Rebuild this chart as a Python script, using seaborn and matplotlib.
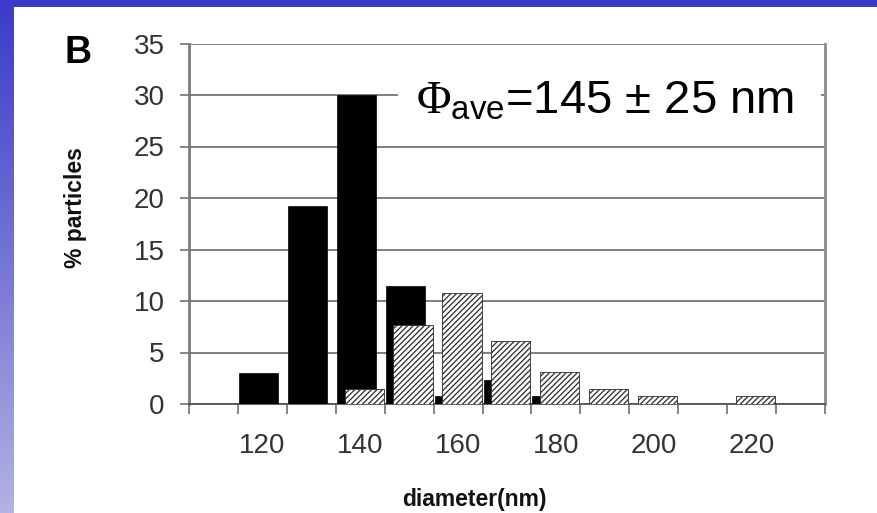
import numpy as np
import pandas as pd
import matplotlib
matplotlib.use("Agg")
import matplotlib.pyplot as plt
from matplotlib.patches import Rectangle
from matplotlib.ticker import FixedLocator, NullFormatter
import seaborn as sns

# Size-distribution histogram: percentage of particles per 10 nm diameter bin
diameters = [110, 120, 130, 140, 150, 160, 170, 180, 190, 200, 210, 220, 230]
pct_solid = [0, 3.0, 19.2, 30.0, 11.5, 0.8, 2.3, 0.8, 0, 0, 0, 0, 0]
pct_hatched = [0, 0, 0, 1.5, 7.7, 10.8, 6.1, 3.1, 1.5, 0.8, 0, 0.8, 0]
x_tick_labels = [120, 140, 160, 180, 200, 220]
y_ticks = [0, 5, 10, 15, 20, 25, 30, 35]
panel_letter = "B"
stat_text = r"$\Phi_{\mathsf{ave}}$=145 ± 25 nm"

sns.set_theme(style="white")
plt.rcParams["font.family"] = ["Liberation Sans", "DejaVu Sans"]
plt.rcParams["mathtext.fontset"] = "custom"
plt.rcParams["mathtext.rm"] = "Liberation Serif"
plt.rcParams["mathtext.sf"] = "Liberation Sans"
plt.rcParams["mathtext.it"] = "Liberation Serif:italic"
plt.rcParams["hatch.linewidth"] = 0.9

W, H = 878, 513
fig = plt.figure(figsize=(W / 100, H / 100), dpi=100)
fig.patch.set_facecolor("white")

# slide background: blue gradient frame at left and top
bg = fig.add_axes([0, 0, 1, 1], zorder=-10)
grad = np.linspace(0, 1, 256)[:, None]
cmap = matplotlib.colors.LinearSegmentedColormap.from_list(
    "slide", ["#3b3bcb", "#7474d4", "#b2b2e3"])
bg.imshow(grad, aspect="auto", cmap=cmap, extent=[0, W, H, 0])
bg.add_patch(Rectangle((14, 7), W - 14, H - 7, facecolor="white",
                       edgecolor="none"))
bg.set_xlim(0, W)
bg.set_ylim(H, 0)
bg.axis("off")

left, right, bottom, top = 189, 825, 404, 43.5
ax = fig.add_axes([left / W, (H - bottom) / H, (right - left) / W,
                   (bottom - top) / H])

df = pd.DataFrame({"diameter": diameters, "solid": pct_solid,
                   "hatched": pct_hatched})
shift = 0.8
sns.barplot(x=df["diameter"] - shift, y=df["solid"], native_scale=True,
            width=0.8, color="black", saturation=1, errorbar=None,
            edgecolor="black", linewidth=0.5, ax=ax, zorder=3)
sns.barplot(x=df["diameter"] + shift, y=df["hatched"], native_scale=True,
            width=0.8, color="white", saturation=1, errorbar=None,
            edgecolor="#2a2a2a", linewidth=0.6, hatch="//////", ax=ax,
            zorder=4)

ax.set_xlim(105, 235)
ax.set_ylim(0, 35)

# y axis
ax.set_yticks(y_ticks)
ax.yaxis.grid(True, color="#6a6a6a", linewidth=1.2, zorder=0)
ax.xaxis.grid(False)
ax.set_axisbelow(True)
ax.tick_params(axis="y", which="major", direction="out", left=True,
               length=6.5, width=1.2, color="#707070", pad=11,
               labelsize=20, labelcolor="#333333")

# x axis: labels every 20 nm, tick marks at the bin boundaries
ax.xaxis.set_major_locator(FixedLocator(x_tick_labels))
ax.set_xticklabels([str(v) for v in x_tick_labels])
ax.xaxis.set_minor_locator(FixedLocator(np.arange(105, 236, 10)))
ax.xaxis.set_minor_formatter(NullFormatter())
ax.tick_params(axis="x", which="major", bottom=True, length=0, pad=21,
               labelsize=20, labelcolor="#333333")
ax.tick_params(axis="x", which="minor", bottom=True, direction="out",
               length=7, width=1.2, color="#707070")

ax.spines["top"].set_visible(False)
ax.spines["left"].set_color("#7a7a7a")
ax.spines["left"].set_linewidth(2.0)
ax.spines["right"].set_color("#8a8a8a")
ax.spines["right"].set_linewidth(2.0)
ax.spines["bottom"].set_color("#555555")
ax.spines["bottom"].set_linewidth(1.3)

ax.set_xlabel("diameter(nm)", fontsize=16.5, fontweight="bold", color="#111111")
ax.xaxis.set_label_coords(0.448, -0.232)
ax.set_ylabel("% particles", fontsize=16.5, fontweight="bold", color="#111111",
              va="center")
ax.yaxis.set_label_coords(-0.178, 0.544)

# white panel behind the summary statistic
ax.add_patch(Rectangle((0.329, 25.6), 0.664, 8.8,
                       transform=ax.get_yaxis_transform(),
                       facecolor="white", edgecolor="none", zorder=2))

fig.text(416 / W, (H - 114) / H, stat_text, fontsize=34, color="black",
         ha="left", va="baseline", family="Liberation Sans")
fig.text(65 / W, (H - 63) / H, panel_letter, fontsize=27, fontweight="bold",
         color="black", ha="left", va="baseline")

fig.savefig("out.png", dpi=100)
